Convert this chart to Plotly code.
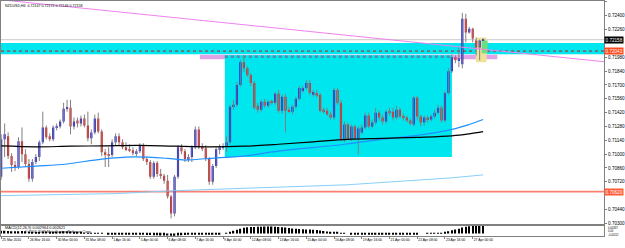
import plotly.graph_objects as go

# ---------------- data (NZDUSD H4) ----------------
opens = [0.7077,0.7115,0.7118,0.7098,0.7089,0.7087,0.7113,0.7100,0.7090,0.7075,
         0.7092,0.7097,0.7112,0.7127,0.7118,0.7115,0.7127,0.7128,0.7133,0.7146,
         0.7147,0.7128,0.7134,0.7131,0.7136,0.7129,0.7116,0.7122,0.7136,0.7123,
         0.7102,0.7100,0.7099,0.7112,0.7118,0.7112,0.7107,0.7105,0.7104,0.7101,
         0.7103,0.7109,0.7095,0.7092,0.7077,0.7091,0.7080,0.7078,0.7073,0.7057,
         0.7040,0.7077,0.7107,0.7103,0.7095,0.7097,0.7107,0.7125,0.7107,0.7106,
         0.7095,0.7072,0.7088,0.7105,0.7107,0.7108,0.7112,0.7148,0.7150,0.7170,
         0.7193,0.7187,0.7180,0.7172,0.7149,0.7145,0.7153,0.7149,0.7153,0.7152,
         0.7161,0.7144,0.7158,0.7145,0.7143,0.7148,0.7156,0.7164,0.7167,0.7172,
         0.7160,0.7162,0.7160,0.7145,0.7144,0.7140,0.7137,0.7165,0.7152,0.7115,
         0.7130,0.7115,0.7128,0.7116,0.7122,0.7127,0.7139,0.7128,0.7132,0.7142,
         0.7137,0.7133,0.7143,0.7143,0.7137,0.7145,0.7138,0.7137,0.7134,0.7130,
         0.7157,0.7138,0.7132,0.7137,0.7135,0.7138,0.7142,0.7147,0.7134,0.7162,
         0.7184,0.7198,0.7195,0.7191,0.7237,0.7223,0.7227,0.7215,0.7208,0.72147]
highs = [0.7120,0.7131,0.7122,0.7101,0.7093,0.7117,0.7127,0.7105,0.7095,0.7095,
         0.7100,0.7114,0.7143,0.7129,0.7121,0.7129,0.7131,0.7135,0.7152,0.7155,
         0.7155,0.7137,0.7137,0.7139,0.7140,0.7143,0.7125,0.7140,0.7142,0.7125,
         0.7105,0.7107,0.7115,0.7121,0.7121,0.7115,0.7112,0.7110,0.7107,0.7105,
         0.7111,0.7111,0.7097,0.7094,0.7093,0.7093,0.7085,0.7080,0.7079,0.7059,
         0.7079,0.7109,0.7110,0.7105,0.7100,0.7109,0.7128,0.7128,0.7111,0.7109,
         0.7097,0.7090,0.7107,0.7110,0.7111,0.7118,0.7150,0.7155,0.7173,0.7195,
         0.7200,0.7189,0.7182,0.7174,0.7152,0.7155,0.7156,0.7155,0.7155,0.7163,
         0.7165,0.7160,0.7161,0.7148,0.7150,0.7158,0.7169,0.7169,0.7175,0.7175,
         0.7165,0.7165,0.7162,0.7147,0.7147,0.7143,0.7167,0.7167,0.7155,0.7133,
         0.7132,0.7130,0.7130,0.7128,0.7130,0.7142,0.7142,0.7135,0.7147,0.7144,
         0.7140,0.7145,0.7147,0.7147,0.7149,0.7147,0.7141,0.7139,0.7136,0.7159,
         0.7159,0.7140,0.7139,0.7139,0.7140,0.7145,0.7150,0.7149,0.7164,0.7187,
         0.7201,0.7200,0.7208,0.7243,0.7242,0.7229,0.7228,0.7218,0.7216,0.72172]
lows = [0.7074,0.7097,0.7095,0.7082,0.7083,0.7085,0.7092,0.7087,0.7072,0.7072,
        0.7090,0.7093,0.7110,0.7115,0.7113,0.7113,0.7124,0.7126,0.7131,0.7143,
        0.7120,0.7125,0.7127,0.7128,0.7127,0.7113,0.7110,0.7120,0.7121,0.7098,
        0.7087,0.7087,0.7097,0.7109,0.7109,0.7105,0.7103,0.7102,0.7099,0.7098,
        0.7101,0.7093,0.7089,0.7075,0.7075,0.7077,0.7075,0.7070,0.7055,0.7035,
        0.7037,0.7075,0.7100,0.7092,0.7092,0.7092,0.7105,0.7105,0.7103,0.7093,
        0.7069,0.7069,0.7086,0.7100,0.7104,0.7102,0.7110,0.7145,0.7148,0.7168,
        0.7183,0.7178,0.7169,0.7145,0.7142,0.7143,0.7147,0.7147,0.7150,0.7150,
        0.7142,0.7141,0.7122,0.7142,0.7140,0.7146,0.7154,0.7162,0.7165,0.7160,
        0.7158,0.7157,0.7142,0.7141,0.7139,0.7135,0.7135,0.7150,0.7113,0.7112,
        0.7114,0.7113,0.7114,0.7100,0.7120,0.7125,0.7126,0.7126,0.7130,0.7134,
        0.7130,0.7131,0.7139,0.7134,0.7135,0.7136,0.7134,0.7132,0.7129,0.7128,
        0.7135,0.7128,0.7129,0.7132,0.7133,0.7136,0.7140,0.7132,0.7132,0.7160,
        0.7182,0.7192,0.7188,0.7187,0.7213,0.7222,0.7213,0.7200,0.7195,0.72146]
closes = [0.7115,0.7120,0.7098,0.7089,0.7087,0.7113,0.7100,0.7090,0.7075,0.7092,
          0.7097,0.7112,0.7127,0.7117,0.7115,0.7127,0.7128,0.7133,0.7146,0.7147,
          0.7128,0.7133,0.7131,0.7136,0.7129,0.7116,0.7122,0.7136,0.7123,0.7102,
          0.7100,0.7099,0.7112,0.7118,0.7112,0.7107,0.7105,0.7104,0.7101,0.7103,
          0.7109,0.7095,0.7092,0.7077,0.7091,0.7080,0.7078,0.7073,0.7057,0.7040,
          0.7077,0.7107,0.7103,0.7095,0.7097,0.7107,0.7125,0.7107,0.7106,0.7095,
          0.7072,0.7088,0.7105,0.7107,0.7108,0.7112,0.7148,0.7150,0.7170,0.7193,
          0.7187,0.7180,0.7172,0.7147,0.7145,0.7153,0.7149,0.7153,0.7152,0.7161,
          0.7144,0.7158,0.7144,0.7143,0.7148,0.7156,0.7167,0.7167,0.7172,0.7162,
          0.7163,0.7159,0.7144,0.7143,0.7140,0.7137,0.7165,0.7152,0.7115,0.7130,
          0.7115,0.7128,0.7116,0.7126,0.7127,0.7139,0.7128,0.7132,0.7142,0.7137,
          0.7133,0.7143,0.71425,0.7137,0.7145,0.7138,0.7137,0.7134,0.7131,0.7157,
          0.7138,0.7132,0.7137,0.7135,0.7138,0.7142,0.7147,0.7134,0.7162,0.7184,
          0.7198,0.7195,0.7197,0.7237,0.7223,0.7227,0.7217,0.7208,0.7215,0.72158]

macd_hist = [0.0012,0.0012,0.0011,0.0010,0.0010,0.0010,0.0011,0.0010,0.0009,0.0008,
             0.0008,0.0008,0.0009,0.0009,0.0008,0.0008,0.0009,0.0009,0.0010,0.0010,
             0.0009,0.0007,0.0005,0.0004,0.0003,0.0002,0.0002,0.0002,0.0002,0.0001,
             0.0000,-0.0002,-0.0002,-0.0003,-0.0003,-0.0003,-0.0004,-0.0004,-0.0004,-0.0005,
             -0.0005,-0.0005,-0.0006,-0.0006,-0.0007,-0.0007,-0.0008,-0.0008,-0.0009,-0.0010,
             -0.0010,-0.0008,-0.0007,-0.0006,-0.0005,-0.0004,-0.0002,-0.0001,-0.0001,-0.0002,
             -0.0003,-0.0003,-0.0002,-0.0001,0.0000,0.0002,0.0008,0.0012,0.0016,0.0021,
             0.0025,0.0027,0.0028,0.0028,0.0029,0.0029,0.0030,0.0030,0.0030,0.0029,
             0.0028,0.0027,0.0026,0.0024,0.0022,0.0021,0.0020,0.0019,0.0018,0.0017,
             0.0016,0.0015,0.0013,0.0011,0.0009,0.0008,0.0007,0.0005,0.0003,0.0001,
             0.0000,-0.0002,-0.0003,-0.0004,-0.0005,-0.0005,-0.0005,-0.0005,-0.0004,-0.0004,
             -0.0004,-0.0003,-0.0003,-0.0003,-0.0002,-0.0002,-0.0002,-0.0002,-0.0002,-0.0001,
             -0.0001,0.0000,0.0000,0.0001,0.0001,0.0002,0.0003,0.0003,0.0006,0.0010,
             0.0014,0.0018,0.0021,0.0026,0.0029,0.0031,0.0033,0.0033,0.0034,0.0034]

ma_black_idx = [0,10,20,30,40,50,60,70,80,90,100,110,120,130,135,139]
ma_black_val = [0.71083,0.71074,0.7108,0.71084,0.71088,0.7108,0.71074,0.7108,0.7110,
                0.71125,0.7115,0.7116,0.7117,0.71185,0.71205,0.71227]
ma_blue_idx = [0,10,19,29,38,48,53,62,69,80,99,112,120,130,135,139]
ma_blue_val = [0.70857,0.70878,0.7090,0.7095,0.70973,0.70957,0.7094,0.70963,0.70977,
               0.7103,0.7110,0.7116,0.7119,0.7125,0.7130,0.7135]
ma_light_idx = [0,33,50,69,100,130,139]
ma_light_val = [0.7058,0.7060,0.7063,0.7065,0.7069,0.7076,0.7079]

trend_idx = [0, 174]
trend_val = [0.72562, 0.71935]

price_ticks = [0.7254,0.7240,0.7226,0.7198,0.7184,0.7170,0.7156,0.7142,0.7128,
               0.7114,0.7100,0.7086,0.7072,0.7044,0.7030]
time_tick_idx = list(range(0, 137, 8))
time_tick_text = ["25 Mar 2010","26 Mar 16:00","30 Mar 00:00","31 Mar 08:00","1 Apr 16:00",
                  "5 Apr 00:00","6 Apr 08:00","7 Apr 16:00","9 Apr 00:00","12 Apr 08:00",
                  "13 Apr 16:00","15 Apr 00:00","16 Apr 08:00","19 Apr 16:00","21 Apr 00:00",
                  "22 Apr 08:00","23 Apr 16:00","27 Apr 00:00"]
macd_max, macd_min = 0.00337, -0.00112
macd_label_text = ["0.00337", "0.00", "-0.00112"]

bid = 0.72158
band_top, band_bot = 0.72125, 0.7201
dotted_level = 0.72043
support_level = 0.7062
pink_zone = (57.3, 143.1, 0.71960, 0.72005)
cyan_box = (64.5, 130.0, 0.70970, 0.72000)
khaki_box = (136.9, 140.0, 0.71930, 0.72180)
green_box = (138.6, 140.3, 0.72020, 0.72150)

# ---------------- figure ----------------
W, H = 625, 248
n = len(opens)
idx = list(range(n))

wx, wy = [], []
for i in idx:
    wx += [i, i, None]
    wy += [lows[i], highs[i], None]

up_col, dn_col = "#1414dc", "#ec1010"
bases = [min(o, c) for o, c in zip(opens, closes)]
hts = [max(abs(c - o), 0.00006) for o, c in zip(opens, closes)]
cols = [up_col if c >= o else dn_col for o, c in zip(opens, closes)]

fig = go.Figure()
fig.add_trace(go.Scatter(x=wx, y=wy, mode="lines", line=dict(color="#808080", width=1),
                         hoverinfo="skip", xaxis="x", yaxis="y"))
fig.add_trace(go.Bar(x=idx, y=hts, base=bases, width=0.62, marker=dict(color=cols, line=dict(width=0)),
                     xaxis="x", yaxis="y"))
fig.add_trace(go.Scatter(x=ma_light_idx, y=ma_light_val, mode="lines",
                         line=dict(color="#87cefa", width=1), xaxis="x", yaxis="y"))
fig.add_trace(go.Scatter(x=ma_blue_idx, y=ma_blue_val, mode="lines", line_shape="spline",
                         line=dict(color="#1e90ff", width=1.2), xaxis="x", yaxis="y"))
fig.add_trace(go.Scatter(x=ma_black_idx, y=ma_black_val, mode="lines", line_shape="spline",
                         line=dict(color="#000000", width=1.2), xaxis="x", yaxis="y"))
fig.add_trace(go.Scatter(x=trend_idx, y=trend_val, mode="lines",
                         line=dict(color="#ee82ee", width=1), xaxis="x", yaxis="y"))
fig.add_trace(go.Bar(x=idx, y=macd_hist, width=0.4, marker=dict(color="#000000", line=dict(width=0)),
                     xaxis="x2", yaxis="y2"))

shapes = []
shapes.append(dict(type="rect", xref="x domain", yref="y", x0=0, x1=1, y0=band_bot, y1=band_top,
                   fillcolor="#00e6ee", line=dict(width=0), layer="below"))
shapes.append(dict(type="line", xref="x domain", yref="y", x0=0, x1=1, y0=dotted_level, y1=dotted_level,
                   line=dict(color="#707070", width=1.6, dash="dot"), layer="below"))
shapes.append(dict(type="rect", xref="x", yref="y", x0=pink_zone[0], x1=pink_zone[1],
                   y0=pink_zone[2], y1=pink_zone[3], fillcolor="#dfa3e6", line=dict(width=0), layer="below"))
shapes.append(dict(type="rect", xref="x", yref="y", x0=cyan_box[0], x1=cyan_box[1],
                   y0=cyan_box[2], y1=cyan_box[3], fillcolor="#00e6ee", line=dict(width=0), layer="below"))
shapes.append(dict(type="line", xref="x", yref="y", x0=cyan_box[0], x1=cyan_box[1],
                   y0=0.71985, y1=0.71985, line=dict(color="#4a8fb0", width=2.5, dash="dot"), layer="below"))
shapes.append(dict(type="rect", xref="x", yref="y", x0=khaki_box[0], x1=khaki_box[1],
                   y0=khaki_box[2], y1=khaki_box[3], fillcolor="#eee29a", line=dict(width=0), layer="below"))
shapes.append(dict(type="rect", xref="x", yref="y", x0=green_box[0], x1=green_box[1],
                   y0=green_box[2], y1=green_box[3], fillcolor="#70dc80", line=dict(width=0), layer="below"))
shapes.append(dict(type="line", xref="x domain", yref="y", x0=0, x1=1, y0=support_level, y1=support_level,
                   line=dict(color="#fa8072", width=1.6), layer="below"))
shapes.append(dict(type="line", xref="x domain", yref="y", x0=0, x1=1, y0=bid, y1=bid,
                   line=dict(color="#c8c8c8", width=1), layer="below"))

xr = [-0.05, 173.9]
xdom = [0, 608 / W]
axcol = "#808080"
fnt = "Liberation Sans"
macd_top_px, macd_bot_px = 227.5, 238.0

fig.update_layout(
    width=W, height=H, margin=dict(l=0, r=0, t=0, b=0),
    paper_bgcolor="white", plot_bgcolor="white", showlegend=False,
    barmode="overlay", shapes=shapes,
    font=dict(family=fnt, size=4, color="black"),
    xaxis=dict(domain=xdom, range=xr, anchor="y", showticklabels=False, showgrid=False,
               zeroline=False, showline=True, linecolor=axcol, linewidth=1, mirror=True, ticks=""),
    yaxis=dict(domain=[1 - 226 / H, 1], range=[0.7029, 0.7255], anchor="x", side="right",
               tickvals=price_ticks, ticktext=["%.5f" % v for v in price_ticks],
               ticks="outside", ticklen=2, tickcolor=axcol, tickfont=dict(size=4.6, family=fnt),
               showgrid=False, zeroline=False, showline=True, linecolor=axcol, mirror=True),
    xaxis2=dict(domain=xdom, range=xr, anchor="y2", tickvals=time_tick_idx, ticktext=time_tick_text,
                tickangle=0, ticks="outside", ticklen=2, tickcolor=axcol,
                ticklabelposition="outside right",
                tickfont=dict(size=3.4, family=fnt), showgrid=False, zeroline=False,
                showline=True, linecolor=axcol, mirror=True),
    yaxis2=dict(domain=[1 - macd_bot_px / H, 1 - macd_top_px / H], range=[macd_min, macd_max],
                anchor="x2", side="right", showticklabels=False, ticks="",
                showgrid=False, zeroline=False, showline=True, linecolor=axcol, mirror=True),
)

ann = []
ann.append(dict(xref="paper", yref="paper", x=2 / W, y=1 - 5 / H, xanchor="left", yanchor="middle",
                text="NZDUSD,H4  0.72147 0.72172 0.72146 0.72158", showarrow=False,
                font=dict(size=3.6, family=fnt, color="black")))
ann.append(dict(xref="paper", yref="paper", x=2 / W, y=1 - 230 / H, xanchor="left", yanchor="middle",
                text="MACD(12,26,9) 0.002964 0.002621", showarrow=False,
                font=dict(size=3.8, family=fnt, color="black")))
ann.append(dict(xref="paper", yref="paper", x=22 / W, y=1 - 233.5 / H, xanchor="left", yanchor="middle",
                text="© 2001-2009 MetaQuotes Software Corp.", showarrow=False,
                font=dict(size=3.6, family=fnt, color="black")))
# MACD window scale labels (MT4 prints max below the top edge, min above the bottom edge)
for txt, ypx in zip(macd_label_text, [229.9, 233.2, 236.5]):
    ann.append(dict(xref="paper", yref="paper", x=610 / W, y=1 - ypx / H, xanchor="left",
                    yanchor="middle", text=txt, showarrow=False,
                    font=dict(size=2.7, family=fnt, color="black")))
for val, bg, txt in [(bid, "#000000", "0.72158"), (dotted_level, "#ff4a1c", "0.72043"),
                     (support_level, "#ff5a36", "0.70620")]:
    ann.append(dict(xref="paper", yref="y", x=608 / W, y=val, xanchor="left", yanchor="middle",
                    text=txt, showarrow=False, bgcolor=bg, borderpad=0.6,
                    font=dict(size=4.6, family=fnt, color="white")))
fig.update_layout(annotations=ann)

fig.write_html("out.html")
